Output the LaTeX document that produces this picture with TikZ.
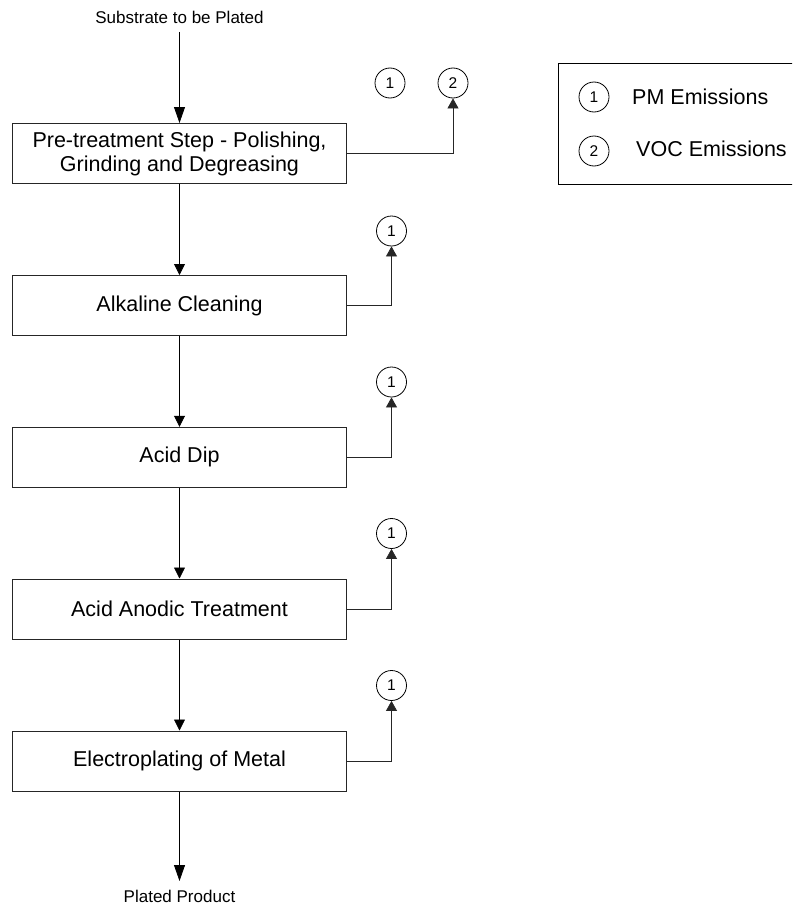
\documentclass[tikz,border=0pt]{standalone}
\usepackage{fontspec}
\setmainfont{Liberation Sans}
\usetikzlibrary{arrows.meta}
\begin{document}
\begin{tikzpicture}[x=1pt,y=-1pt,
  stepbox/.style={draw=black!85, line width=1pt, minimum width=334pt, minimum height=60pt,
    align=center, inner sep=0pt, font=\fontsize{21.5}{24}\selectfont},
  emis/.style={draw=black, line width=0.8pt, circle, minimum size=30pt, inner sep=0pt,
    font=\fontsize{15.5}{15.5}\selectfont},
  smalltext/.style={inner sep=0pt, font=\fontsize{17}{20}\selectfont},
  legtext/.style={inner sep=0pt, anchor=west, font=\fontsize{21.5}{24}\selectfont},
  flow/.style={line width=0.8pt, -{Triangle[length=11pt,width=11pt]}},
  flowlong/.style={line width=0.8pt, -{Triangle[length=16pt,width=11pt]}},
  outflow/.style={line width=0.8pt, draw=black!85, -{Triangle[length=10pt,width=11pt]}},
  legbox/.style={draw=black, line width=1pt}
]
\useasboundingbox (0,0) rectangle (792,907);
\clip (0,0) rectangle (792,907);

% input / output labels
\node[smalltext] (in) at (179.5,17) {Substrate to be Plated};
\node[smalltext] (out) at (179.5,896) {Plated Product};
\coordinate (inTop) at (179.5,32);
\coordinate (outEnd) at (179.5,881);

% process steps
\node[stepbox] (s1) at (179.5,153.5) {Pre-treatment Step - Polishing,\\Grinding and Degreasing};
\node[stepbox] (s2) at (179.5,305.5) {Alkaline Cleaning};
\node[stepbox] (s3) at (179.5,457.3) {Acid Dip};
\node[stepbox] (s4) at (179.5,609) {Acid Anodic Treatment};
\node[stepbox] (s5) at (179.5,761) {Electroplating of Metal};

% emission circles
\node[emis] (e1a) at (390,83) {1};
\node[emis] (e1b) at (453,83) {2};
\node[emis] (e2) at (391.5,231) {1};
\node[emis] (e3) at (391.5,382) {1};
\node[emis] (e4) at (391.5,533.5) {1};
\node[emis] (e5) at (391.5,685.5) {1};

% main flow
\draw[flowlong] (inTop) -- (s1.north);
\draw[flow] (s1.south) -- (s2.north);
\draw[flow] (s2.south) -- (s3.north);
\draw[flow] (s3.south) -- (s4.north);
\draw[flow] (s4.south) -- (s5.north);
\draw[flowlong] (s5.south) -- (outEnd);

% emissions
\draw[outflow] (s1.east) -| (e1b.south);
\draw[outflow] (s2.east) -| (e2.south);
\draw[outflow] (s3.east) -| (e3.south);
\draw[outflow] (s4.east) -| (e4.south);
\draw[outflow] (s5.east) -| (e5.south);

% legend
\node[legbox, minimum width=250pt, minimum height=121pt, anchor=north west, inner sep=0pt] (leg) at (558,63) {};
\node[emis] (l1) at (594,97) {1};
\node[emis] (l2) at (594,151) {2};
\node[legtext] (l1t) at (632,97) {PM Emissions};
\node[legtext] (l2t) at (636,149) {VOC Emissions};
\end{tikzpicture}
\end{document}
